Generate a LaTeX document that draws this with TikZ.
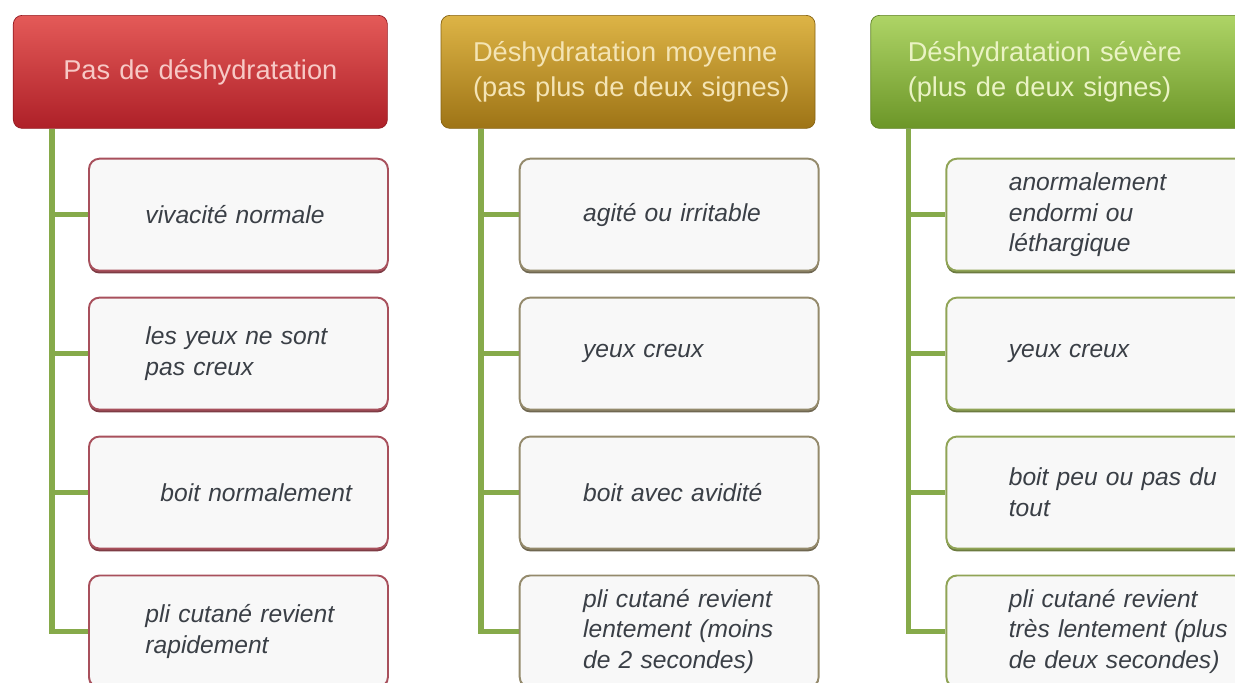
\documentclass[tikz,border=0pt]{standalone}
\usepackage{fontspec}
\setmainfont{Liberation Sans}
\usetikzlibrary{positioning,shadows}
\definecolor{redtop}{HTML}{E45A58}
\definecolor{redbot}{HTML}{AE2028}
\definecolor{redtxt}{HTML}{F7C9C6}
\definecolor{goldtop}{HTML}{DDB446}
\definecolor{goldbot}{HTML}{9E7416}
\definecolor{goldtxt}{HTML}{F4E4B4}
\definecolor{greentop}{HTML}{AED466}
\definecolor{greenbot}{HTML}{6C9628}
\definecolor{greentxt}{HTML}{EAF3C4}
\definecolor{trunkgreen}{HTML}{86AA4A}
\definecolor{kidfill}{HTML}{F8F8F8}
\definecolor{kidtext}{HTML}{3A3F46}
\definecolor{bordA}{HTML}{A8505C}
\definecolor{bordB}{HTML}{948A6C}
\definecolor{bordC}{HTML}{90A456}
\tikzset{
  head/.style={rounded corners=5pt,minimum height=2.26cm,inner xsep=0.04cm,inner ysep=0pt,
    text width=7.4cm,font=\fontsize{15.5}{19.5}\selectfont},
  kid/.style={rounded corners=6pt,fill=kidfill,line width=1.1pt,minimum height=2.24cm,
    text width=5.88cm,inner xsep=0.05cm,inner ysep=0pt,align=left,text=kidtext,
    font=\itshape\fontsize{14}{17.5}\selectfont},
  kidA/.style={kid,draw=bordA,execute at begin node={\leftskip=1.08cm},
    drop shadow={shadow xshift=0pt,shadow yshift=-1.6pt,opacity=1,fill=bordA!75!black}},
  kidB/.style={kid,draw=bordB,execute at begin node={\leftskip=1.22cm},
    drop shadow={shadow xshift=0pt,shadow yshift=-1.6pt,opacity=1,fill=bordB!75!black}},
  kidC/.style={kid,draw=bordC,execute at begin node={\leftskip=1.2cm},
    drop shadow={shadow xshift=0pt,shadow yshift=-1.6pt,opacity=1,fill=bordC!75!black}},
  trunk/.style={line width=3.2pt,draw=trunkgreen},
}
\begin{document}
\begin{tikzpicture}
\useasboundingbox (0,0) rectangle (24.7,-13.64);
%headers
\node[head,align=center,top color=redtop,bottom color=redbot,draw=redbot!85!black,text=redtxt,
  anchor=north west] (hA) at (0.26,-0.3) {Pas de d\'eshydratation};
\node[head,align=left,top color=goldtop,bottom color=goldbot,draw=goldbot!85!black,text=goldtxt,
  execute at begin node={\leftskip=0.6cm},right=1.06cm of hA] (hB)
  {D\'eshydratation moyenne\\(pas plus de deux signes)};
\node[head,align=left,top color=greentop,bottom color=greenbot,draw=greenbot!85!black,text=greentxt,
  execute at begin node={\leftskip=0.7cm},right=1.1cm of hB] (hC)
  {D\'eshydratation s\'ev\`ere\\(plus de deux signes)};
%first column
\node[kidA,anchor=north west] (cA1) at ([shift={(1.5cm,-0.58cm)}]hA.south west) {vivacit\'e normale};
\node[kidA,below=0.5cm of cA1] (cA2) {les yeux ne sont\\pas creux};
\node[kidA,below=0.5cm of cA2] (cA3) {\hspace*{0.3cm}boit normalement};
\node[kidA,below=0.5cm of cA3] (cA4) {pli cutan\'e revient\\rapidement};
%second column
\node[kidB,anchor=north west] (cB1) at ([shift={(1.56cm,-0.58cm)}]hB.south west) {agit\'e ou irritable};
\node[kidB,below=0.5cm of cB1] (cB2) {yeux creux};
\node[kidB,below=0.5cm of cB2] (cB3) {boit avec avidit\'e};
\node[kidB,below=0.5cm of cB3] (cB4) {pli cutan\'e revient\\lentement (moins\\de 2 secondes)};
%third column
\node[kidC,anchor=north west] (cC1) at ([shift={(1.5cm,-0.58cm)}]hC.south west) {anormalement\\endormi ou\\l\'ethargique};
\node[kidC,below=0.5cm of cC1] (cC2) {yeux creux};
\node[kidC,below=0.5cm of cC2] (cC3) {boit peu ou pas du\\tout};
\node[kidC,below=0.5cm of cC3] (cC4) {pli cutan\'e revient\\tr\`es lentement (plus\\de deux secondes)};
%connectors
\coordinate (tA) at ([xshift=0.78cm]hA.south west);
\coordinate (tB) at ([xshift=0.8cm]hB.south west);
\coordinate (tC) at ([xshift=0.76cm]hC.south west);
\foreach \c in {A,B,C}
  \foreach \i in {1,...,4}
    \draw[trunk] (t\c) |- (c\c\i.west);
\end{tikzpicture}
\end{document}
